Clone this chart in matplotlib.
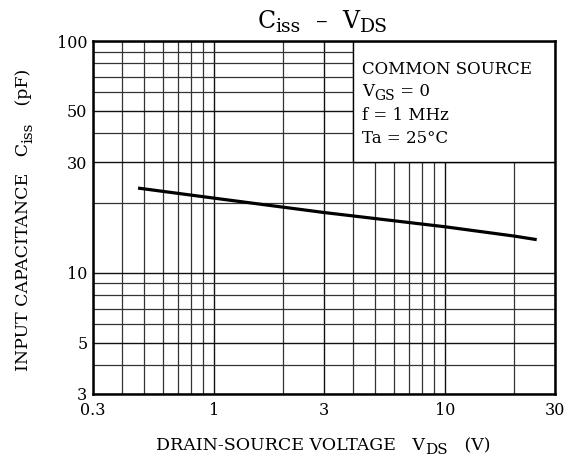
import matplotlib
matplotlib.use("Agg")
import matplotlib.pyplot as plt
from matplotlib.patches import Rectangle
from matplotlib.ticker import FixedLocator, FixedFormatter, NullFormatter

plt.rcParams['font.family'] = ['DejaVu Serif']
plt.rcParams['mathtext.fontset'] = 'dejavuserif'

# Data
vds = [0.47, 1, 3, 10, 20, 25]
ciss = [23.2, 21.0, 18.2, 15.8, 14.4, 13.9]

x_major = [0.3, 1, 3, 10, 30]
x_major_labels = ["0.3", "1", "3", "10", "30"]
x_minor = [0.3, 0.4, 0.5, 0.6, 0.7, 0.8, 0.9, 1, 2, 3, 4, 5, 6, 7, 8, 9, 10, 20, 30]
y_major = [3, 5, 10, 30, 50, 100]
y_major_labels = ["3", "5", "10", "30", "50", "100"]
y_minor = [3, 4, 5, 6, 7, 8, 9, 10, 20, 30, 40, 50, 60, 70, 80, 90, 100]

W, H = 571, 459
fig = plt.figure(figsize=(W/100, H/100), dpi=100)
renderer = fig.canvas.get_renderer()


def measure(t, size):
    tmp = fig.text(0, 0, t, fontsize=size)
    w = tmp.get_window_extent(renderer).width
    tmp.remove()
    return w


def seg_text(x_px, y_px, segments, rotation=0, align='center'):
    """segments: list of (text, fontsize, drop_px); x_px,y_px from top-left; baseline y."""
    widths = [measure(t, s) for t, s, d in segments]
    total = sum(widths)
    if rotation == 0:
        cur = x_px - total/2 if align == 'center' else x_px
        for (t, s, d), w in zip(segments, widths):
            fig.text(cur/W, 1-(y_px + d)/H, t, fontsize=s, ha='left', va='baseline')
            cur += w
    else:
        # rotated 90: text runs upward; x_px is baseline x, y_px is center
        cur = y_px + total/2
        for (t, s, d), w in zip(segments, widths):
            fig.text((x_px + d)/W, 1-cur/H, t, fontsize=s, ha='left', va='baseline',
                     rotation=90, rotation_mode='anchor')
            cur -= w


ax = fig.add_axes([93/W, 1-394/H, 462/W, 353/H])
ax.set_xscale('log')
ax.set_yscale('log')
ax.set_xlim(0.3, 30)
ax.set_ylim(3, 100)

ax.xaxis.set_major_locator(FixedLocator(x_major))
ax.xaxis.set_major_formatter(FixedFormatter(x_major_labels))
ax.xaxis.set_minor_locator(FixedLocator(x_minor))
ax.xaxis.set_minor_formatter(NullFormatter())
ax.yaxis.set_major_locator(FixedLocator(y_major))
ax.yaxis.set_major_formatter(FixedFormatter(y_major_labels))
ax.yaxis.set_minor_locator(FixedLocator(y_minor))
ax.yaxis.set_minor_formatter(NullFormatter())

ax.tick_params(which='both', length=0)
ax.tick_params(axis='x', pad=6, labelsize=11.5)
ax.tick_params(axis='y', pad=4, labelsize=11.5)

ax.set_axisbelow(True)
ax.grid(which='minor', color='#333333', linewidth=0.9)
ax.grid(which='major', color='#111111', linewidth=1.0)

for s in ax.spines.values():
    s.set_linewidth(1.8)
    s.set_color('black')

# Condition box (covers grid)
ax.add_patch(Rectangle((4, 30), 26, 70, facecolor='white', edgecolor='black',
                       linewidth=1.0, zorder=1))

ax.plot(vds, ciss, color='black', linewidth=2.3, solid_capstyle='butt', zorder=3)

# Conditions text
lx = 362
seg_text(lx, 74, [("COMMON SOURCE", 12, 0)], align='left')
seg_text(lx, 96.5, [("V", 12, 0), ("GS", 10, 3.5), (" = 0", 12, 0)], align='left')
seg_text(lx, 120.5, [("f = 1 MHz", 12, 0)], align='left')
seg_text(lx, 143.5, [("Ta = 25°C", 12, 0)], align='left')

# Title
seg_text(322.5, 28, [("C", 17, 0), ("iss", 13.5, 4.5), ("  –  ", 17, 0),
                      ("V", 17, 0), ("DS", 13.5, 4.5)])
# X label
seg_text(323.5, 450, [("DRAIN-SOURCE VOLTAGE   V", 12.5, 0), ("DS", 11, 4),
                       ("   (V)", 12.5, 0)])
# Y label
seg_text(28, 220, [("INPUT CAPACITANCE   C", 12.5, 0), ("iss", 11, 4),
                    ("   (pF)", 12.5, 0)], rotation=90)

fig.savefig("out.png", dpi=100)
